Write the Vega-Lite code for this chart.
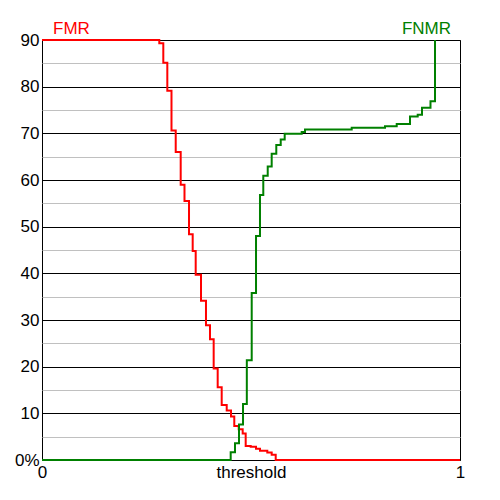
{
  "$schema": "https://vega.github.io/schema/vega-lite/v6.json",
  "autosize": "none",
  "width": 418,
  "height": 420,
  "padding": {"left": 42, "top": 40, "right": 40, "bottom": 40},
  "background": "white",
  "config": {
    "font": "Liberation Sans",
    "view": {"stroke": "black", "strokeWidth": 1}
  },
  "datasets": {
    "curves": [
      {"series": "FMR", "t": 0, "v": 90},
      {"series": "FMR", "t": 0.2806, "v": 89.3},
      {"series": "FMR", "t": 0.2902, "v": 85.1},
      {"series": "FMR", "t": 0.2998, "v": 79.1},
      {"series": "FMR", "t": 0.3098, "v": 70.6},
      {"series": "FMR", "t": 0.3199, "v": 66.0},
      {"series": "FMR", "t": 0.3318, "v": 59.0},
      {"series": "FMR", "t": 0.3409, "v": 55.5},
      {"series": "FMR", "t": 0.3517, "v": 48.4},
      {"series": "FMR", "t": 0.3605, "v": 44.8},
      {"series": "FMR", "t": 0.3677, "v": 39.7},
      {"series": "FMR", "t": 0.3804, "v": 34.1},
      {"series": "FMR", "t": 0.3923, "v": 28.9},
      {"series": "FMR", "t": 0.4019, "v": 25.9},
      {"series": "FMR", "t": 0.4107, "v": 19.6},
      {"series": "FMR", "t": 0.4203, "v": 15.6},
      {"series": "FMR", "t": 0.4299, "v": 11.8},
      {"series": "FMR", "t": 0.4419, "v": 10.6},
      {"series": "FMR", "t": 0.4522, "v": 9.3},
      {"series": "FMR", "t": 0.4600, "v": 7.3},
      {"series": "FMR", "t": 0.4706, "v": 6.6},
      {"series": "FMR", "t": 0.4801, "v": 5.7},
      {"series": "FMR", "t": 0.4873, "v": 3.0},
      {"series": "FMR", "t": 0.4993, "v": 2.85},
      {"series": "FMR", "t": 0.5120, "v": 2.4},
      {"series": "FMR", "t": 0.5215, "v": 2.0},
      {"series": "FMR", "t": 0.5390, "v": 1.6},
      {"series": "FMR", "t": 0.5495, "v": 1.1},
      {"series": "FMR", "t": 0.5591, "v": 0},
      {"series": "FMR", "t": 1, "v": 0},
      {"series": "FNMR", "t": 0, "v": 0},
      {"series": "FNMR", "t": 0.4514, "v": 1.65},
      {"series": "FNMR", "t": 0.4617, "v": 3.6},
      {"series": "FNMR", "t": 0.4713, "v": 7.6},
      {"series": "FNMR", "t": 0.4809, "v": 12.0},
      {"series": "FNMR", "t": 0.4900, "v": 21.4},
      {"series": "FNMR", "t": 0.5017, "v": 35.8},
      {"series": "FNMR", "t": 0.5120, "v": 48.0},
      {"series": "FNMR", "t": 0.5215, "v": 56.8},
      {"series": "FNMR", "t": 0.5294, "v": 60.9},
      {"series": "FNMR", "t": 0.5400, "v": 62.9},
      {"series": "FNMR", "t": 0.5495, "v": 65.6},
      {"series": "FNMR", "t": 0.5605, "v": 67.5},
      {"series": "FNMR", "t": 0.5711, "v": 68.7},
      {"series": "FNMR", "t": 0.5806, "v": 69.9},
      {"series": "FNMR", "t": 0.6213, "v": 70.3},
      {"series": "FNMR", "t": 0.6292, "v": 70.8},
      {"series": "FNMR", "t": 0.7409, "v": 71.2},
      {"series": "FNMR", "t": 0.8206, "v": 71.5},
      {"series": "FNMR", "t": 0.8486, "v": 72.0},
      {"series": "FNMR", "t": 0.8804, "v": 73.6},
      {"series": "FNMR", "t": 0.8988, "v": 74.0},
      {"series": "FNMR", "t": 0.9091, "v": 75.5},
      {"series": "FNMR", "t": 0.9294, "v": 76.9},
      {"series": "FNMR", "t": 0.9402, "v": 90}
    ],
    "labels": [
      {"series": "FMR", "t": 0, "v": 90},
      {"series": "FNMR", "t": 1, "v": 90}
    ]
  },
  "resolve": {"axis": {"y": "independent"}},
  "layer": [
    {
      "data": {"name": "labels"},
      "transform": [{"filter": "datum.series === 'FMR'"}],
      "mark": {"type": "text", "align": "left", "baseline": "alphabetic", "dx": 11, "dy": -6, "fontSize": 17, "font": "Liberation Sans"},
      "encoding": {
        "x": {"field": "t", "type": "quantitative"},
        "y": {
          "field": "v", "type": "quantitative",
          "axis": {
            "orient": "right", "title": null, "values": [5, 15, 25, 35, 45, 55, 65, 75, 85],
            "grid": true, "gridColor": "#c0c0c0", "gridWidth": 1, "gridOpacity": 1,
            "labels": false, "ticks": false, "domain": false
          }
        },
        "text": {"field": "series"},
        "color": {"field": "series", "type": "nominal", "legend": null}
      }
    },
    {
      "data": {"name": "curves"},
      "mark": {"type": "line", "interpolate": "step-after", "strokeWidth": 2, "clip": false},
      "encoding": {
        "x": {
          "field": "t", "type": "quantitative",
          "scale": {"domain": [0, 1], "nice": false, "zero": false},
          "axis": {
            "title": null, "values": [0, 0.5, 1], "grid": false, "ticks": false, "domain": false,
            "labelExpr": "datum.value === 0 ? '0' : (datum.value === 1 ? '1' : 'threshold')",
            "labelFontSize": 17, "labelColor": "black", "labelPadding": 4, "labelFlush": false,
            "labelFont": "Liberation Sans"
          }
        },
        "y": {
          "field": "v", "type": "quantitative",
          "scale": {"domain": [0, 90], "nice": false},
          "axis": {
            "orient": "left", "title": null, "values": [0, 10, 20, 30, 40, 50, 60, 70, 80, 90],
            "grid": true, "ticks": false, "domain": false,
            "gridColor": "black", "gridWidth": 1, "gridOpacity": 1,
            "labelExpr": "datum.value === 0 ? '0%' : datum.label",
            "labelFontSize": 17, "labelColor": "black", "labelPadding": 3,
            "labelFont": "Liberation Sans", "labelFlush": false
          }
        },
        "color": {
          "field": "series", "type": "nominal",
          "scale": {"domain": ["FMR", "FNMR"], "range": ["#ff0000", "#008000"]},
          "legend": null
        }
      }
    },
    {
      "data": {"name": "labels"},
      "transform": [{"filter": "datum.series === 'FNMR'"}],
      "mark": {"type": "text", "align": "right", "baseline": "alphabetic", "dx": -9, "dy": -6, "fontSize": 17, "font": "Liberation Sans"},
      "encoding": {
        "x": {"field": "t", "type": "quantitative"},
        "y": {"field": "v", "type": "quantitative", "axis": null},
        "text": {"field": "series"},
        "color": {"field": "series", "type": "nominal", "legend": null}
      }
    }
  ]
}
